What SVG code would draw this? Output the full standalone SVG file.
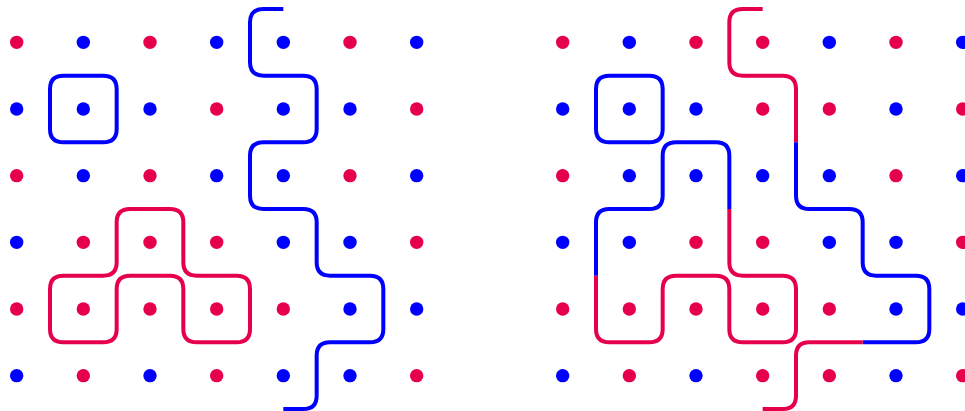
<svg xmlns="http://www.w3.org/2000/svg" width="965" height="411" viewBox="0 0 965 411">
<style>
.r{fill:#e6004c}
.b{fill:#0000ff}
.lr{fill:none;stroke:#e6004c;stroke-width:4}
.lb{fill:none;stroke:#0000ff;stroke-width:4}
</style>
<defs>
<path id="sq" d="M63.33,75.67 L103.33,75.67 Q116.67,75.67 116.67,89 L116.67,129 Q116.67,142.33 103.33,142.33 L63.33,142.33 Q50,142.33 50,129 L50,89 Q50,75.67 63.33,75.67 Z"/>
</defs>
<rect width="965" height="411" fill="#fff"/>

<g id="left-panel">
  <g id="left-dots">
    <circle class="r" cx="16.67" cy="42.33" r="6.7"/><circle class="b" cx="83.33" cy="42.33" r="6.7"/><circle class="r" cx="150" cy="42.33" r="6.7"/><circle class="b" cx="216.67" cy="42.33" r="6.7"/><circle class="b" cx="283.33" cy="42.33" r="6.7"/><circle class="r" cx="350" cy="42.33" r="6.7"/><circle class="b" cx="416.67" cy="42.33" r="6.7"/>
    <circle class="b" cx="16.67" cy="109" r="6.7"/><circle class="b" cx="83.33" cy="109" r="6.7"/><circle class="b" cx="150" cy="109" r="6.7"/><circle class="r" cx="216.67" cy="109" r="6.7"/><circle class="b" cx="283.33" cy="109" r="6.7"/><circle class="b" cx="350" cy="109" r="6.7"/><circle class="r" cx="416.67" cy="109" r="6.7"/>
    <circle class="r" cx="16.67" cy="175.67" r="6.7"/><circle class="b" cx="83.33" cy="175.67" r="6.7"/><circle class="r" cx="150" cy="175.67" r="6.7"/><circle class="b" cx="216.67" cy="175.67" r="6.7"/><circle class="b" cx="283.33" cy="175.67" r="6.7"/><circle class="r" cx="350" cy="175.67" r="6.7"/><circle class="b" cx="416.67" cy="175.67" r="6.7"/>
    <circle class="b" cx="16.67" cy="242.33" r="6.7"/><circle class="r" cx="83.33" cy="242.33" r="6.7"/><circle class="r" cx="150" cy="242.33" r="6.7"/><circle class="r" cx="216.67" cy="242.33" r="6.7"/><circle class="b" cx="283.33" cy="242.33" r="6.7"/><circle class="b" cx="350" cy="242.33" r="6.7"/><circle class="r" cx="416.67" cy="242.33" r="6.7"/>
    <circle class="r" cx="16.67" cy="309" r="6.7"/><circle class="r" cx="83.33" cy="309" r="6.7"/><circle class="r" cx="150" cy="309" r="6.7"/><circle class="r" cx="216.67" cy="309" r="6.7"/><circle class="r" cx="283.33" cy="309" r="6.7"/><circle class="b" cx="350" cy="309" r="6.7"/><circle class="b" cx="416.67" cy="309" r="6.7"/>
    <circle class="b" cx="16.67" cy="375.67" r="6.7"/><circle class="r" cx="83.33" cy="375.67" r="6.7"/><circle class="b" cx="150" cy="375.67" r="6.7"/><circle class="r" cx="216.67" cy="375.67" r="6.7"/><circle class="b" cx="283.33" cy="375.67" r="6.7"/><circle class="b" cx="350" cy="375.67" r="6.7"/><circle class="r" cx="416.67" cy="375.67" r="6.7"/>
  </g>
  <g id="left-curves">
    <use href="#sq" class="lb"/>
    <path class="lb" d="M283.33,9 L263.33,9 Q250,9 250,22.33 L250,62.33 Q250,75.67 263.33,75.67 L303.33,75.67 Q316.67,75.67 316.67,89 L316.67,129 Q316.67,142.33 303.33,142.33 L263.33,142.33 Q250,142.33 250,155.67 L250,195.67 Q250,209 263.33,209 L303.33,209 Q316.67,209 316.67,222.33 L316.67,262.33 Q316.67,275.67 330,275.67 L370,275.67 Q383.33,275.67 383.33,289 L383.33,329 Q383.33,342.33 370,342.33 L330,342.33 Q316.67,342.33 316.67,355.67 L316.67,395.67 Q316.67,409 303.33,409 L283.33,409"/>
    <path class="lr" d="M130,209 L170,209 Q183.33,209 183.33,222.33 L183.33,262.33 Q183.33,275.67 196.67,275.67 L236.67,275.67 Q250,275.67 250,289 L250,329 Q250,342.33 236.67,342.33 L196.67,342.33 Q183.33,342.33 183.33,329 L183.33,289 Q183.33,275.67 170,275.67 L130,275.67 Q116.67,275.67 116.67,289 L116.67,329 Q116.67,342.33 103.33,342.33 L63.33,342.33 Q50,342.33 50,329 L50,289 Q50,275.67 63.33,275.67 L103.33,275.67 Q116.67,275.67 116.67,262.33 L116.67,222.33 Q116.67,209 130,209 Z"/>
  </g>
</g>

<g id="right-panel" transform="translate(546,0)">
  <g id="right-dots">
    <circle class="r" cx="16.67" cy="42.33" r="6.7"/><circle class="b" cx="83.33" cy="42.33" r="6.7"/><circle class="r" cx="150" cy="42.33" r="6.7"/><circle class="r" cx="216.67" cy="42.33" r="6.7"/><circle class="b" cx="283.33" cy="42.33" r="6.7"/><circle class="r" cx="350" cy="42.33" r="6.7"/><circle class="b" cx="416.67" cy="42.33" r="6.7"/>
    <circle class="b" cx="16.67" cy="109" r="6.7"/><circle class="b" cx="83.33" cy="109" r="6.7"/><circle class="b" cx="150" cy="109" r="6.7"/><circle class="r" cx="216.67" cy="109" r="6.7"/><circle class="r" cx="283.33" cy="109" r="6.7"/><circle class="b" cx="350" cy="109" r="6.7"/><circle class="r" cx="416.67" cy="109" r="6.7"/>
    <circle class="r" cx="16.67" cy="175.67" r="6.7"/><circle class="b" cx="83.33" cy="175.67" r="6.7"/><circle class="b" cx="150" cy="175.67" r="6.7"/><circle class="b" cx="216.67" cy="175.67" r="6.7"/><circle class="b" cx="283.33" cy="175.67" r="6.7"/><circle class="r" cx="350" cy="175.67" r="6.7"/><circle class="b" cx="416.67" cy="175.67" r="6.7"/>
    <circle class="b" cx="16.67" cy="242.33" r="6.7"/><circle class="b" cx="83.33" cy="242.33" r="6.7"/><circle class="r" cx="150" cy="242.33" r="6.7"/><circle class="r" cx="216.67" cy="242.33" r="6.7"/><circle class="b" cx="283.33" cy="242.33" r="6.7"/><circle class="b" cx="350" cy="242.33" r="6.7"/><circle class="r" cx="416.67" cy="242.33" r="6.7"/>
    <circle class="r" cx="16.67" cy="309" r="6.7"/><circle class="r" cx="83.33" cy="309" r="6.7"/><circle class="r" cx="150" cy="309" r="6.7"/><circle class="r" cx="216.67" cy="309" r="6.7"/><circle class="r" cx="283.33" cy="309" r="6.7"/><circle class="b" cx="350" cy="309" r="6.7"/><circle class="b" cx="416.67" cy="309" r="6.7"/>
    <circle class="b" cx="16.67" cy="375.67" r="6.7"/><circle class="r" cx="83.33" cy="375.67" r="6.7"/><circle class="b" cx="150" cy="375.67" r="6.7"/><circle class="r" cx="216.67" cy="375.67" r="6.7"/><circle class="r" cx="283.33" cy="375.67" r="6.7"/><circle class="b" cx="350" cy="375.67" r="6.7"/><circle class="r" cx="416.67" cy="375.67" r="6.7"/>
  </g>
  <g id="right-curves">
    <use href="#sq" class="lb"/>
    <path class="lr" d="M216.67,9 L196.67,9 Q183.33,9 183.33,22.33 L183.33,62.33 Q183.33,75.67 196.67,75.67 L236.67,75.67 Q250,75.67 250,89 L250,142.33"/>
    <path class="lb" d="M250,142.33 L250,195.67 Q250,209 263.33,209 L303.33,209 Q316.67,209 316.67,222.33 L316.67,262.33 Q316.67,275.67 330,275.67 L370,275.67 Q383.33,275.67 383.33,289 L383.33,329 Q383.33,342.33 370,342.33 L316.67,342.33"/>
    <path class="lr" d="M316.67,342.33 L263.33,342.33 Q250,342.33 250,355.67 L250,395.67 Q250,409 236.67,409 L216.67,409"/>
    <path class="lb" d="M50,275.67 L50,222.33 Q50,209 63.33,209 L103.33,209 Q116.67,209 116.67,195.67 L116.67,155.67 Q116.67,142.33 130,142.33 L170,142.33 Q183.33,142.33 183.33,155.67 L183.33,209"/>
    <path class="lr" d="M183.33,209 L183.33,262.33 Q183.33,275.67 196.67,275.67 L236.67,275.67 Q250,275.67 250,289 L250,329 Q250,342.33 236.67,342.33 L196.67,342.33 Q183.33,342.33 183.33,329 L183.33,289 Q183.33,275.67 170,275.67 L130,275.67 Q116.67,275.67 116.67,289 L116.67,329 Q116.67,342.33 103.33,342.33 L63.33,342.33 Q50,342.33 50,329 L50,275.67"/>
  </g>
</g>
</svg>
